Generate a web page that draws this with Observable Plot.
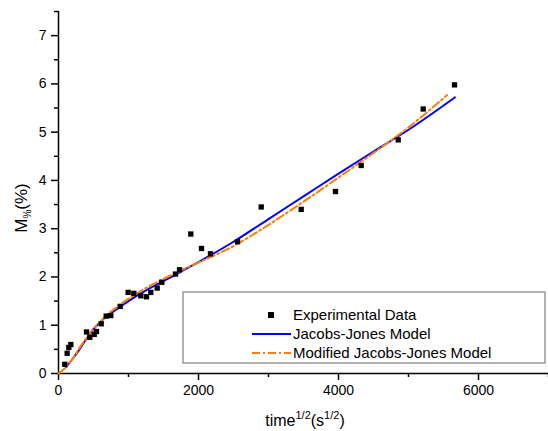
<!DOCTYPE html>
<html><head><meta charset="utf-8">
<script src="https://cdn.jsdelivr.net/npm/d3@7"></script>
<script src="https://cdn.jsdelivr.net/npm/@observablehq/plot@0.6"></script>
<style>body{margin:0;background:#fff}#chart{width:548px;height:431px}</style>
</head><body><div id="chart"></div>
<script>
// Experimental data
const expX = [90,124,147,176,400,447,510,543,610,681,747,881,995,1076,1176,1257,1319,1410,1476,1671,1729,1890,2043,2171,2557,2896,3467,3957,4324,4853,5210,5657];
const expY = [0.19,0.42,0.54,0.60,0.86,0.75,0.81,0.87,1.03,1.19,1.20,1.39,1.68,1.66,1.61,1.59,1.68,1.77,1.89,2.06,2.15,2.89,2.59,2.48,2.73,3.45,3.40,3.77,4.31,4.84,5.48,5.98];
// Jacobs-Jones model
const jjX = [110,200,300,400,500,600,700,800,1000,1200,1400,1600,1800,2000,2500,3000,3500,4000,4500,5000,5662];
const jjY = [0.13,0.30,0.50,0.72,0.92,1.07,1.20,1.30,1.50,1.68,1.84,1.99,2.15,2.31,2.73,3.20,3.67,4.14,4.60,5.05,5.72];
// Modified Jacobs-Jones model
const mjjX = [0,100,200,300,400,500,600,700,800,1000,1200,1400,1600,1800,2000,2500,3000,3500,4000,4500,5000,5552];
const mjjY = [0,0.12,0.30,0.53,0.74,0.93,1.08,1.22,1.34,1.55,1.73,1.89,2.03,2.17,2.30,2.64,3.08,3.56,4.06,4.57,5.10,5.77];
const xTicks = [0,2000,4000,6000];
const xMinor = [1000,3000,5000,7000];
const yTicks = [0,1,2,3,4,5,6,7];
const yMinor = [0.5,1.5,2.5,3.5,4.5,5.5,6.5,7.5];
const legendLabels = ["Experimental Data","Jacobs-Jones Model","Modified Jacobs-Jones Model"];

const exp = expX.map((x,i)=>({x, y: expY[i]}));
const jj = jjX.map((x,i)=>({x, y: jjY[i]}));
const mjj = mjjX.map((x,i)=>({x, y: mjjY[i]}));

const FONT = "Arial, 'Liberation Sans', sans-serif";
const plot = Plot.plot({
  width: 548, height: 431,
  marginLeft: 58, marginRight: 0, marginTop: 11, marginBottom: 58,
  style: {fontFamily: FONT, fontSize: "14px", color: "#000", background: "#fff", overflow: "visible"},
  x: {domain: [0, 7000]},
  y: {domain: [0, 7.5]},
  marks: [
    Plot.axisX({ticks: xTicks, tickSize: 7, tickPadding: 5, strokeWidth: 1.5, label: null, tickFormat: d => String(d), fontSize: 14}),
    Plot.axisX({ticks: xMinor, tickSize: 4, strokeWidth: 1.5, label: null, tickFormat: () => ""}),
    Plot.axisY({ticks: yTicks, tickSize: 7, tickPadding: 5, strokeWidth: 1.5, label: null, tickFormat: d => String(d), fontSize: 14}),
    Plot.axisY({ticks: yMinor, tickSize: 4, strokeWidth: 1.5, label: null, tickFormat: () => ""}),
    Plot.ruleX([0], {stroke: "#000", strokeWidth: 1.5}),
    Plot.ruleY([0], {stroke: "#000", strokeWidth: 1.5}),
    Plot.line(jj, {x: "x", y: "y", stroke: "#0000ff", strokeWidth: 2, curve: "monotone-x"}),
    Plot.line(mjj, {x: "x", y: "y", stroke: "#ff8000", strokeWidth: 2, strokeDasharray: "8,3,2,3", curve: "monotone-x"}),
    Plot.dot(exp, {x: "x", y: "y", symbol: "square", fill: "#000", stroke: "none", r: 3})
  ]
});
document.getElementById("chart").appendChild(plot);

const svg = d3.select(plot);
// x-axis title
const xt = svg.append("text").attr("x", 305).attr("y", 426).attr("text-anchor", "middle")
  .style("font-family", FONT).style("font-size", "16px").attr("fill", "#000");
xt.append("tspan").text("time");
xt.append("tspan").attr("dy", -7).style("font-size", "11px").text("1/2");
xt.append("tspan").attr("dy", 7).text("(s");
xt.append("tspan").attr("dy", -7).style("font-size", "11px").text("1/2");
xt.append("tspan").attr("dy", 7).text(")");
// y-axis title
const yt = svg.append("text").attr("transform", "translate(27,208) rotate(-90)").attr("text-anchor", "middle")
  .style("font-family", FONT).style("font-size", "17px").attr("fill", "#000");
yt.append("tspan").text("M");
yt.append("tspan").attr("dy", 4).style("font-size", "10px").text("%");
yt.append("tspan").attr("dy", -4).text("(%)");

// legend
const lg = svg.append("g").attr("text-anchor", "start");
lg.append("rect").attr("x", 183).attr("y", 292).attr("width", 362).attr("height", 71)
  .attr("fill", "#fff").attr("stroke", "#808080").attr("stroke-width", 1.2);
const rowsY = [315, 334, 353];
lg.append("rect").attr("x", 268).attr("y", rowsY[0] - 3).attr("width", 6).attr("height", 6).attr("fill", "#000");
lg.append("line").attr("x1", 252).attr("x2", 291).attr("y1", rowsY[1]).attr("y2", rowsY[1]).attr("stroke", "#0000ff").attr("stroke-width", 2);
lg.append("line").attr("x1", 252).attr("x2", 291).attr("y1", rowsY[2]).attr("y2", rowsY[2]).attr("stroke", "#ff8000").attr("stroke-width", 2).attr("stroke-dasharray", "8,3,2,3");
legendLabels.forEach((t, i) => {
  lg.append("text").attr("x", 293).attr("y", rowsY[i] + 5).attr("text-anchor", "start")
    .style("font-family", FONT).style("font-size", "15px").attr("fill", "#000").text(t);
});
</script>
</body></html>
